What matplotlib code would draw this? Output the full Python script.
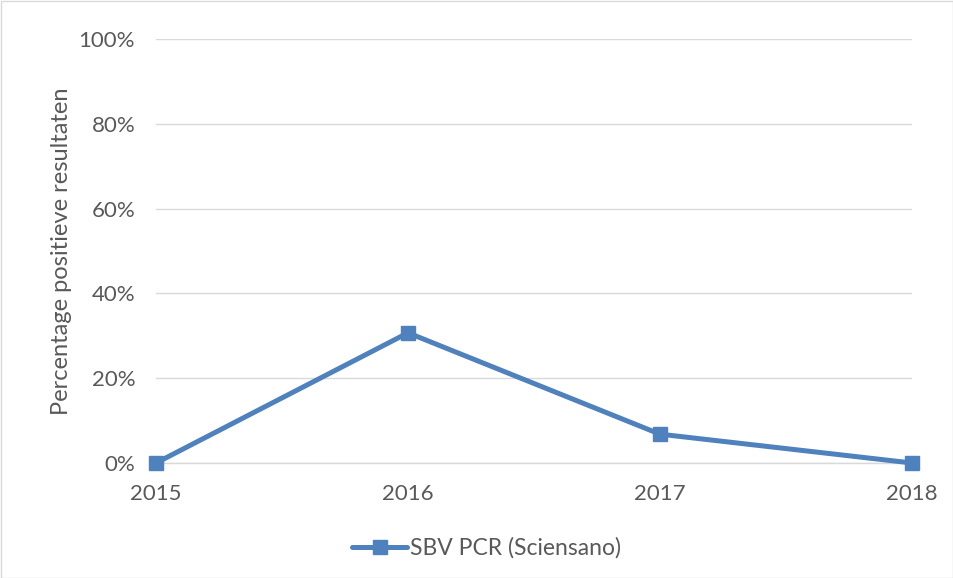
import matplotlib
matplotlib.use("Agg")
import matplotlib.pyplot as plt
from matplotlib.ticker import FuncFormatter

# data
years = [2015, 2016, 2017, 2018]
positive_pct = [0.0, 30.7, 6.8, 0.0]
series_name = "SBV PCR (Sciensano)"
y_label = "Percentage positieve resultaten"

TEXT = "#595959"
LINE = "#4F81BD"
GRID = "#D9D9D9"

plt.rcParams["font.family"] = ["Lato", "DejaVu Sans"]

W, H = 954, 578
fig = plt.figure(figsize=(W / 100, H / 100), dpi=100)
ax = fig.add_axes([156 / W, (H - 463) / H, (912 - 156) / W, (463 - 39) / H])

ax.plot(years, positive_pct, color=LINE, linewidth=3.6, marker="s",
        markersize=10.5, solid_capstyle="round", label=series_name,
        zorder=3, clip_on=False)

ax.set_xlim(years[0], years[-1])
ax.set_ylim(0, 100)
ax.set_yticks(range(0, 101, 20))
ax.set_xticks(years)
ax.yaxis.set_major_formatter(FuncFormatter(lambda v, p: f"{int(v)}%"))
ax.grid(axis="y", color=GRID, linewidth=1)
ax.set_axisbelow(True)

for s in ["top", "right", "left"]:
    ax.spines[s].set_visible(False)
ax.spines["bottom"].set_color(GRID)
ax.spines["bottom"].set_linewidth(1)
ax.spines["bottom"].set_zorder(1)

ax.tick_params(axis="both", length=0, labelsize=16, colors=TEXT)
ax.tick_params(axis="y", pad=15)
ax.tick_params(axis="x", pad=15)

ax.set_ylabel(y_label, fontsize=17, color=TEXT, labelpad=5)

fig.legend(loc="center", bbox_to_anchor=(0.51, (H - 548) / H), frameon=False,
           fontsize=16.5, labelcolor=TEXT, handlelength=2.4, handletextpad=0.1)

# light chart border
fig.patches.append(plt.Rectangle((0.5 / W, 0.5 / H), 1 - 1.5 / W, 1 - 1.5 / H,
                                 transform=fig.transFigure, fill=False,
                                 edgecolor="#D9D9D9", linewidth=1))

fig.savefig("out.png", dpi=100)
